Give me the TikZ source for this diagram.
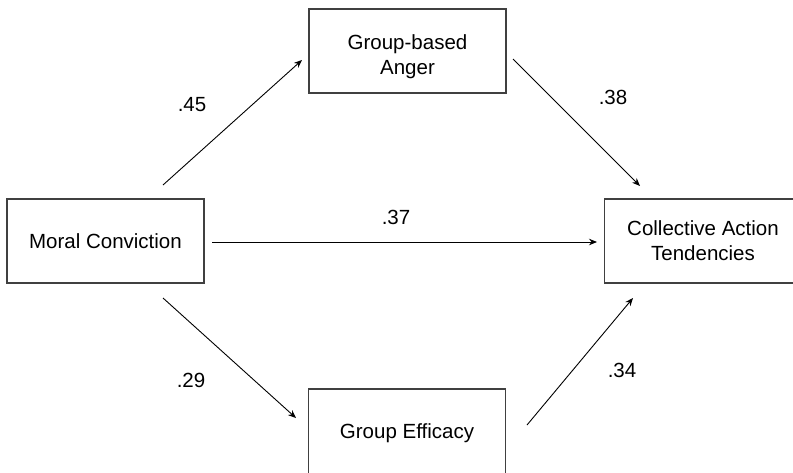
\documentclass[tikz,border=0pt]{standalone}
\usepackage{fontspec}
\setmainfont{Liberation Sans}
\usetikzlibrary{arrows.meta}
\begin{document}
\begin{tikzpicture}[x=1pt,y=-1pt,
  box/.style={draw=black!75, line width=1.2pt, rectangle, minimum width=197pt, minimum height=84pt, inner sep=0pt},
  txt/.style={align=center, font=\fontsize{20.5}{25}\selectfont, inner sep=0pt},
  lbl/.style={font=\fontsize{20.5}{25}\selectfont, inner sep=0pt},
  arr/.style={draw=black, line width=0.9pt, -{Stealth[length=8pt,width=6.5pt]}}]
\useasboundingbox (0,0) rectangle (793,472);
\clip (0,0) rectangle (793,472);
\fill[white] (0,0) rectangle (793,472);
% boxes
\node[box] (moral) at (105.5,241) {};
\node[txt] (moral-t) at (moral.center) {Moral Conviction};
\node[box] (anger) at (407.5,51) {};
\node[txt] (anger-t) at ([yshift=-6pt]anger.center) {Group-based\\Anger};
\node[box] (coll) at (703,241) {};
\node[txt] (coll-t) at (coll.center) {Collective Action\\Tendencies};
\node[box, minimum height=88pt] (eff) at (407,433) {};
\node[txt] (eff-t) at (eff.center) {Group Efficacy};
% arrow end points
\coordinate (m1) at (163,185);
\coordinate (a1) at (302,60);
\coordinate (a2) at (513,59);
\coordinate (c1) at (640,186);
\coordinate (m2) at (212,242);
\coordinate (c2) at (597,242);
\coordinate (m3) at (163,298);
\coordinate (e1) at (296,418);
\coordinate (e2) at (527,425);
\coordinate (c3) at (633,298);
% arrows
\draw[arr] (m1) -- (a1);
\draw[arr] (a2) -- (c1);
\draw[arr] (m2) -- (c2);
\draw[arr] (m3) -- (e1);
\draw[arr] (e2) -- (c3);
% labels
\node[lbl] (l45) at (192,105) {.45};
\node[lbl] (l38) at (613,97) {.38};
\node[lbl] (l37) at (396,217) {.37};
\node[lbl] (l29) at (191,380) {.29};
\node[lbl] (l34) at (622,370) {.34};
\end{tikzpicture}
\end{document}
